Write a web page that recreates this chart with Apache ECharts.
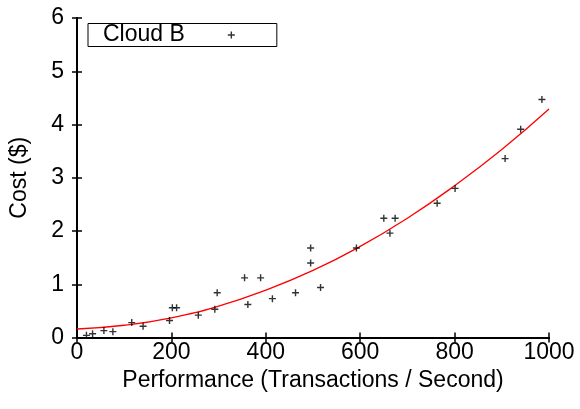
<!DOCTYPE html>
<html>
<head>
<meta charset="utf-8">
<script src="https://cdn.jsdelivr.net/npm/echarts@6/dist/echarts.min.js"></script>
<style>
  html, body { margin: 0; padding: 0; background: #fff; }
  #chart { width: 580px; height: 409px; }
</style>
</head>
<body>
<div id="chart"></div>
<script>
// Measured cost against throughput
const perfX = [20, 33, 57, 76, 116, 140, 196, 202, 211, 257, 292, 297, 355, 362, 389, 414, 463, 495, 495, 516, 592, 650, 663, 674, 763, 801, 907, 940, 985];
const costY = [0.04, 0.07, 0.13, 0.11, 0.28, 0.21, 0.32, 0.56, 0.56, 0.42, 0.53, 0.84, 1.12, 0.62, 1.12, 0.73, 0.84, 1.68, 1.40, 0.94, 1.68, 2.24, 1.96, 2.24, 2.52, 2.80, 3.36, 3.91, 4.47];

// Fitted trend curve, sampled along the x range
const fitX = [0, 100, 200, 300, 400, 500, 600, 700, 800, 900, 1000];
const fitY = [0.16, 0.23, 0.37, 0.59, 0.89, 1.26, 1.71, 2.24, 2.85, 3.53, 4.29];

const xTicks = [0, 200, 400, 600, 800, 1000];
const yTicks = [0, 1, 2, 3, 4, 5, 6];

const seriesName = 'Cloud B';
const xTitle = 'Performance (Transactions / Second)';
const yTitle = 'Cost ($)';

const FONT = '"Liberation Sans", Arial, Helvetica, sans-serif';
const FS = 23;
const PLUS = 'path://M4,0H6V4H10V6H6V10H4V6H0V4H4Z';

const chart = echarts.init(document.getElementById('chart'), null, { renderer: 'canvas' });

function axisBase(extra) {
  return Object.assign({
    type: 'value',
    splitLine: { show: false },
    axisLine: { show: true, lineStyle: { color: '#000', width: 2 } },
    axisTick: { show: true, inside: true, length: 5, lineStyle: { color: '#000', width: 1.5 } }
  }, extra);
}

chart.setOption({
  animation: false,
  backgroundColor: '#fff',
  textStyle: { fontFamily: FONT },
  grid: { left: 74, top: 18, right: 31, bottom: 71.5, containLabel: false },
  legend: {
    data: [{ name: seriesName, icon: PLUS }],
    left: 88,
    top: 23.5,
    align: 'right',
    itemWidth: 7,
    itemHeight: 7,
    padding: [0, 42, 0, 15],
    borderColor: '#000',
    borderWidth: 1,
    selectedMode: false,
    textStyle: { fontFamily: FONT, fontSize: FS, color: '#000', lineHeight: 19, padding: [0, 38, 0, 0] }
  },
  xAxis: [
    axisBase({
      min: xTicks[0], max: xTicks[xTicks.length - 1], interval: 200,
      position: 'bottom',
      name: xTitle, nameLocation: 'middle', nameGap: 32,
      nameTextStyle: { fontFamily: FONT, fontSize: FS, color: '#000' },
      axisLabel: { margin: 4, fontFamily: FONT, fontSize: FS, color: '#000', formatter: v => String(v) }
    }),
    axisBase({
      min: xTicks[0], max: xTicks[xTicks.length - 1], interval: 200,
      position: 'top',
      axisLabel: { show: false }
    })
  ],
  yAxis: [
    axisBase({
      min: yTicks[0], max: yTicks[yTicks.length - 1], interval: 1,
      position: 'left',
      name: yTitle, nameLocation: 'middle', nameGap: 46, nameRotate: 90,
      nameTextStyle: { fontFamily: FONT, fontSize: FS, color: '#000' },
      axisLabel: { margin: 13, fontFamily: FONT, fontSize: FS, color: '#000', formatter: v => String(v) }
    }),
    axisBase({
      min: yTicks[0], max: yTicks[yTicks.length - 1], interval: 1,
      position: 'right',
      axisLabel: { show: false }
    })
  ],
  series: [
    {
      name: 'fit',
      type: 'line',
      data: fitX.map((x, i) => [x, fitY[i]]),
      smooth: true,
      showSymbol: false,
      symbol: 'none',
      lineStyle: { color: '#ff0000', width: 1.3 },
      z: 2
    },
    {
      name: seriesName,
      type: 'scatter',
      data: perfX.map((x, i) => [x, costY[i]]),
      symbol: PLUS,
      symbolSize: 7,
      itemStyle: { color: '#000' },
      z: 3
    }
  ]
});
</script>
</body>
</html>
